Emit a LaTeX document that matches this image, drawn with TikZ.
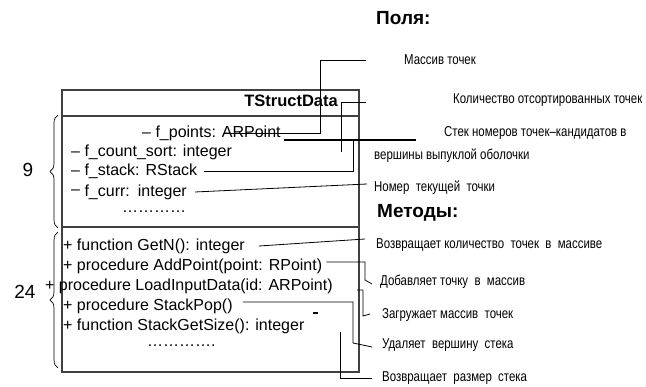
\documentclass[tikz,border=0pt]{standalone}
\usepackage{fontspec}
\setmainfont{Liberation Sans}
\newfontfamily\narrowfont[FakeStretch=0.8]{Liberation Sans}
\usetikzlibrary{decorations.pathreplacing}

\begin{document}
\begin{tikzpicture}[x=1pt,y=-1pt,
  field/.style={anchor=west,inner sep=0pt,font=\fontsize{16}{16}\selectfont},
  note/.style={anchor=west,inner sep=0pt,font=\narrowfont\fontsize{14.3}{14.3}\selectfont},
  headline/.style={anchor=west,inner sep=0pt,font=\bfseries\fontsize{19}{19}\selectfont},
  wire/.style={line width=0.8pt},
  frame/.style={line width=1.2pt,draw=black!75},
  curly/.style={decorate,decoration={brace,amplitude=8pt},line width=0.7pt}]
\useasboundingbox (0,0) rectangle (646,387);
% class box
\draw[frame] (62,90) rectangle (359,372);
\draw[frame] (62,116) -- (359,116);
\draw[frame] (62,227) -- (359,227);
\node[anchor=east,inner sep=0pt,font=\bfseries\fontsize{16.5}{16.5}\selectfont] (title) at (338,101) {TStructData};
% fields
\node[field] (fpoints) at (142,133) {– f\_points: ARPoint};
\node[field] (fcount) at (71,152) {– f\_count\_sort: integer};
\node[field] (fstack) at (71,171) {– f\_stack: RStack};
\node[field] (fcurr) at (71,192) {\raisebox{2pt}{–} f\_curr:\hspace{8pt}integer};
\node[field] (fdots) at (122,212) {…………};
% methods
\node[field] (mgetn) at (63,246) {+ function GetN(): integer};
\node[field] (madd) at (63,266) {+ procedure AddPoint(point: RPoint)};
\node[field] (mload) at (45,286) {+ procedure LoadInputData(id: ARPoint)};
\node[field] (mpop) at (63,306) {+ procedure StackPop()};
\node[field] (msize) at (63,326) {+ function StackGetSize(): integer};
\node[field] (mdots) at (147,346) {………….};
% braces
\draw[curly] (58,228) -- (58,115);
\draw[curly] (58,368) -- (58,232);
\node[inner sep=0pt,font=\fontsize{19}{19}\selectfont] (nine) at (28,170) {9};
\node[inner sep=0pt,font=\fontsize{19}{19}\selectfont] (tfour) at (25,292) {24};
% headings
\node[headline] (hfields) at (376,18) {Поля:};
\node[headline] (hmethods) at (377,213) {Методы:};
% notes
\node[note] (lpoints) at (404,60) {Массив точек};
\node[note] (lcount) at (453,100) {Количество отсортированных точек};
\node[note] (lstack) at (444,133) {Стек номеров точек–кандидатов в};
\node[note] (lstackb) at (374,156) {вершины выпуклой оболочки};
\node[note] (lcurr) at (374,188) {Номер\ \ текущей\ \ точки};
\node[note] (lgetn) at (376,245) {Возвращает количество\ \ точек\ \ в\ \ массиве};
\node[note] (ladd) at (380,282) {Добавляет точку\ \ в\ \ массив};
\node[note] (lload) at (382,315) {Загружает массив\ \ точек};
\node[note] (lpop) at (382,345) {Удаляет\ \ вершину\ \ стека};
\node[note] (lsize) at (382,378) {Возвращает\ \ размер\ \ стека};
% connectors
\draw[wire] ([xshift=-57pt]fpoints.east) -| ([xshift=-84pt]lpoints.west) -- ([xshift=-38pt]lpoints.west);
\draw[wire] ([xshift=109pt]fcount.east) |- ([xshift=-87pt,yshift=-2pt]lcount.west);
\draw[wire] ([xshift=7pt]fstack.east) -| (353,140);
\draw[line width=1.6pt] (284,140) -- (416,140);
\draw[wire] ([xshift=8pt]fcurr.east) -- ([xshift=-7pt,yshift=4pt]lcurr.west);
\draw[wire] ([xshift=14pt]mgetn.east) -- ([xshift=-11pt,yshift=6pt]lgetn.west);
\draw[wire] ([xshift=4pt,yshift=4pt]madd.east) -| (365,280) -- ([xshift=-8pt,yshift=-2pt]ladd.west);
\draw[wire] (357,290) -| (363,316) -- ([xshift=-12pt,yshift=1pt]lload.west);
\draw[wire] ([xshift=10pt,yshift=4pt]mpop.east) -| (353,343) -- ([xshift=-10pt,yshift=-2pt]lpop.west);
\draw[line width=1.6pt] (313,313) -- (318,313);
\draw[wire] (340,332) |- ([xshift=-10pt]lsize.west);
\end{tikzpicture}
\end{document}
